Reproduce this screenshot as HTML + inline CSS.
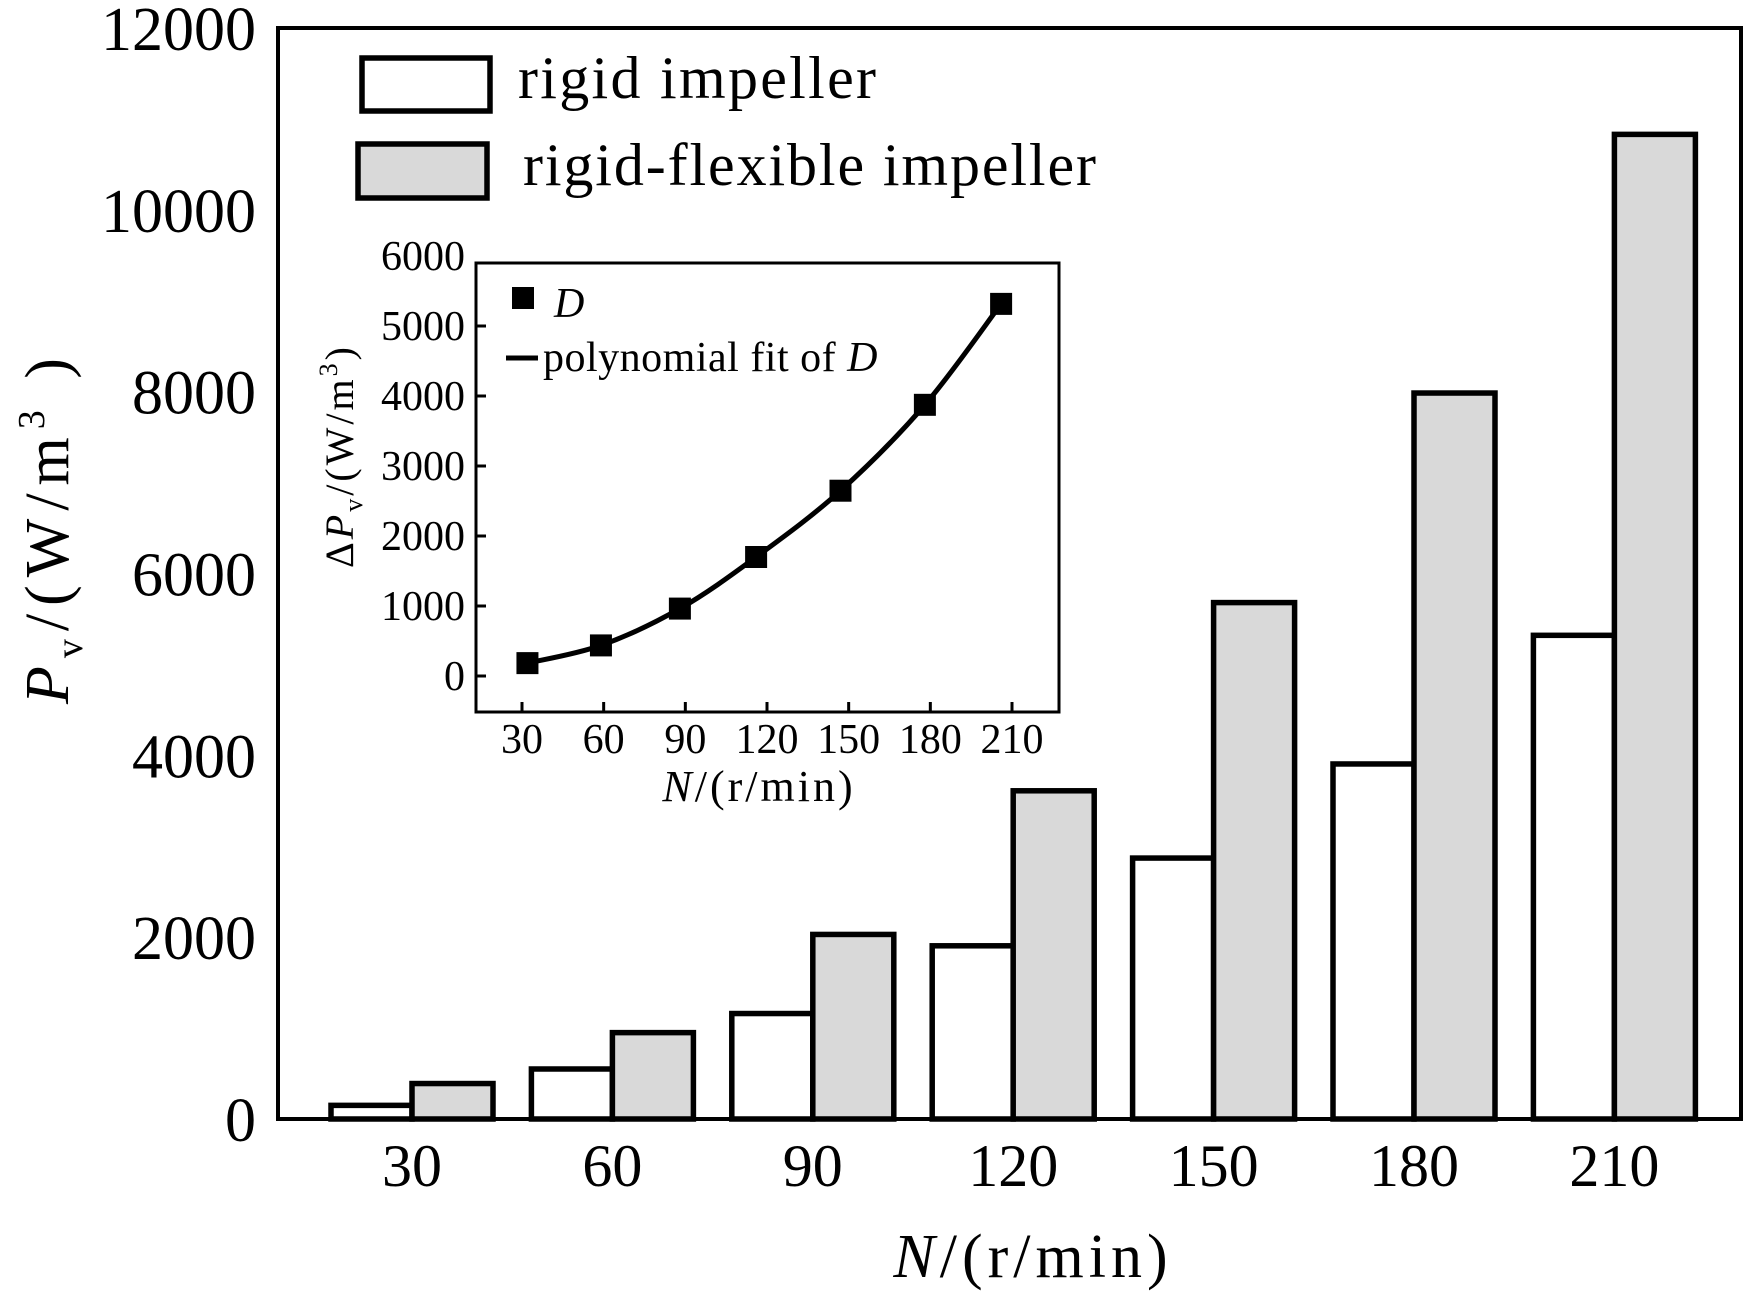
<!DOCTYPE html>
<html><head><meta charset="utf-8"><style>
html,body{margin:0;padding:0;background:#fff;}
svg text{font-family:"Liberation Serif",serif;fill:#000;}
</style></head><body>
<svg id="chart" width="1745" height="1302" viewBox="0 0 1745 1302" xmlns="http://www.w3.org/2000/svg">
<g id="main"></g>
<g id="inset"></g>
</svg>
<script>
const categories = [30, 60, 90, 120, 150, 180, 210];
const rigidValues = [150, 550, 1160, 1905, 2870, 3905, 5320];
const flexValues = [390, 950, 2030, 3610, 5680, 7985, 10830];
const yTicks = [0, 2000, 4000, 6000, 8000, 10000, 12000];

const insetX = [32, 59, 88, 116, 147, 178, 206];
const insetValues = [184, 437, 963, 1700, 2647, 3874, 5316];
const insetXTicks = [30, 60, 90, 120, 150, 180, 210];
const insetYTicks = [0, 1000, 2000, 3000, 4000, 5000, 6000];

const NS = 'http://www.w3.org/2000/svg';
function mk(parent, tag, attrs, text) {
  const e = document.createElementNS(NS, tag);
  for (const k in attrs) e.setAttribute(k, attrs[k]);
  if (text !== undefined) e.textContent = text;
  parent.appendChild(e);
  return e;
}
const main = document.getElementById('main');
const inset = document.getElementById('inset');

const L = 278, T = 28, R = 1741, B = 1119;
const yMax = 12000;
const yS = v => B - v / yMax * (B - T);
const xBoundary = i => 412 + i * 200.4;
const bw = 81;

categories.forEach((c, i) => {
  const xb = xBoundary(i);
  let r = mk(main, 'rect', {x: xb - bw, y: yS(rigidValues[i]), width: bw, height: B - yS(rigidValues[i]), fill: '#fff', stroke: '#000', 'stroke-width': 5.5});
  
  
  let f = mk(main, 'rect', {x: xb, y: yS(flexValues[i]), width: bw, height: B - yS(flexValues[i]), fill: '#d9d9d9', stroke: '#000', 'stroke-width': 5.5});
  
  
  let t = mk(main, 'text', {x: xb, y: 1186, 'font-size': 60, 'text-anchor': 'middle'}, String(c));
  
  
});
let fr = mk(main, 'rect', {x: L, y: T, width: R - L, height: B - T, fill: 'none', stroke: '#000', 'stroke-width': 4});


yTicks.forEach(v => {
  let t = mk(main, 'text', {x: 256, y: yS(v) + 22, 'font-size': 62, 'text-anchor': 'end'}, String(v));
  
  
});
let xt = mk(main, 'text', {x: 1033, y: 1277, 'font-size': 62, 'text-anchor': 'middle', 'letter-spacing': 5});


xt.innerHTML = '<tspan font-style="italic">N</tspan>/(r/min)';
let yt = mk(main, 'text', {x: 0, y: 0, 'font-size': 62, 'text-anchor': 'middle', 'letter-spacing': 8, transform: 'translate(68,527) rotate(-90)'});


yt.innerHTML = '<tspan font-style="italic">P</tspan><tspan font-size="38" dy="14">v</tspan><tspan dy="-14">/(W/m</tspan><tspan font-size="38" dy="-24">3</tspan><tspan dy="24"> )</tspan>';

let lb1 = mk(main, 'rect', {x: 362, y: 58, width: 128, height: 53, fill: '#fff', stroke: '#000', 'stroke-width': 5.5});


let lt1 = mk(main, 'text', {x: 518, y: 98, 'font-size': 60, textLength: 358, lengthAdjust: 'spacing'}, 'rigid  impeller');


let lb2 = mk(main, 'rect', {x: 358, y: 144, width: 129, height: 54, fill: '#d9d9d9', stroke: '#000', 'stroke-width': 5.5});


let lt2 = mk(main, 'text', {x: 523, y: 185, 'font-size': 60, textLength: 573, lengthAdjust: 'spacing'}, 'rigid-flexible  impeller');



const iL = 476, iT = 263, iR = 1059, iB = 712;
const ixS = v => 522 + (v - 30) / 180 * (1012 - 522);
const iyS = v => 676 - v / 1000 * 70;
let ibg = mk(inset, 'rect', {x: iL, y: iT, width: iR - iL, height: iB - iT, fill: '#fff', stroke: '#000', 'stroke-width': 3});


insetYTicks.forEach(v => {
  if (v < 6000) mk(inset, 'line', {x1: iL, x2: iL + 10, y1: iyS(v), y2: iyS(v), stroke: '#000', 'stroke-width': 3});
  let t = mk(inset, 'text', {x: 465, y: iyS(v) + 14, 'font-size': 42, 'text-anchor': 'end'}, String(v));
  
  
});
insetXTicks.forEach(v => {
  mk(inset, 'line', {x1: ixS(v), x2: ixS(v), y1: iB, y2: iB - 10, stroke: '#000', 'stroke-width': 3});
  let t = mk(inset, 'text', {x: ixS(v), y: 753, 'font-size': 42, 'text-anchor': 'middle'}, String(v));
  
  
});
const pts = insetX.map((x, i) => [ixS(x), iyS(insetValues[i])]);
let d = 'M' + pts[0][0] + ',' + pts[0][1];
for (let i = 0; i < pts.length - 1; i++) {
  const p0 = pts[Math.max(0, i - 1)], p1 = pts[i], p2 = pts[i + 1], p3 = pts[Math.min(pts.length - 1, i + 2)];
  const c1 = [p1[0] + (p2[0] - p0[0]) / 6, p1[1] + (p2[1] - p0[1]) / 6];
  const c2 = [p2[0] - (p3[0] - p1[0]) / 6, p2[1] - (p3[1] - p1[1]) / 6];
  d += ' C' + c1 + ' ' + c2 + ' ' + p2;
}
let fit = mk(inset, 'path', {d: d, fill: 'none', stroke: '#000', 'stroke-width': 5});


pts.forEach((p, i) => {
  let m = mk(inset, 'rect', {x: p[0] - 11, y: p[1] - 11, width: 22, height: 22, fill: '#000'});
  
  
});
let ils = mk(inset, 'rect', {x: 512, y: 287, width: 22, height: 22, fill: '#000'});


let ilt = mk(inset, 'text', {x: 554, y: 317, 'font-size': 42, 'font-style': 'italic'}, 'D');


let ill = mk(inset, 'line', {x1: 506, x2: 538, y1: 358, y2: 358, stroke: '#000', 'stroke-width': 5});


let ilt2 = mk(inset, 'text', {x: 543, y: 371, 'font-size': 42, 'letter-spacing': 0.5});


ilt2.innerHTML = 'polynomial fit of <tspan font-style="italic">D</tspan>';
let ixt = mk(inset, 'text', {x: 759, y: 801, 'font-size': 44, 'text-anchor': 'middle', 'letter-spacing': 3});


ixt.innerHTML = '<tspan font-style="italic">N</tspan>/(r/min)';
let iyt = mk(inset, 'text', {x: 0, y: 0, 'font-size': 40, 'text-anchor': 'middle', 'letter-spacing': 3, transform: 'translate(353,456) rotate(-90)'});


iyt.innerHTML = 'Δ<tspan font-style="italic">P</tspan><tspan font-size="26" dy="9">v</tspan><tspan dy="-9">/(W/m</tspan><tspan font-size="26" dy="-16">3</tspan><tspan dy="16">)</tspan>';
</script>
</body></html>
